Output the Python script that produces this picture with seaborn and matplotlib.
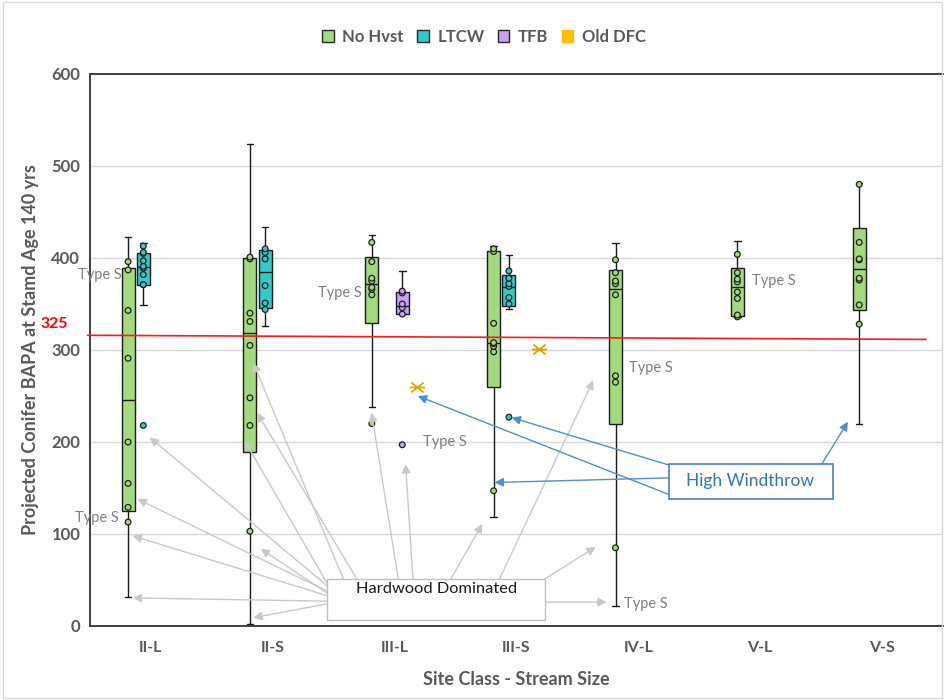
import numpy as np
import pandas as pd
import matplotlib
matplotlib.use("Agg")
import matplotlib as mpl
import matplotlib.pyplot as plt
from matplotlib.patches import Patch, Rectangle
from matplotlib.path import Path
import seaborn as sns

# ---------------- data ----------------
sites = ["II-L", "II-S", "III-L", "III-S", "IV-L", "V-L", "V-S"]
series = ["No Hvst", "LTCW", "TFB", "Old DFC"]
series_colors = ["#a3da7e", "#33c9c9", "#c9a0f6", "#ffc000"]

no_hvst = {
    "II-L": [32, 113, 129, 155, 200, 291, 343, 387, 396, 423],
    "II-S": [2, 103, 218, 248, 305, 331, 340, 399, 401, 524],
    "III-L": [220, 238, 360, 366, 368, 375, 378, 396, 417, 425],
    "III-S": [119, 147, 298, 304, 307, 308, 329, 407, 410, 413],
    "IV-L": [22, 85, 265, 272, 360, 372, 375, 384, 398, 416],
    "V-L": [336, 336, 338, 356, 363, 374, 377, 384, 404, 418],
    "V-S": [220, 328, 349, 376, 378, 398, 399, 417, 480, 482],
}
ltcw = {
    "II-L": [218, 349, 371, 371, 382, 389, 391, 397, 405, 406, 413, 416],
    "II-S": [326, 344, 351, 370, 399, 406, 410, 434],
    "III-S": [227, 345, 350, 357, 369, 372, 378, 386, 403],
}
tfb = {
    "III-L": [197, 339, 339, 346, 350, 362, 364, 386],
}
old_dfc = {
    "III-L": [260],
    "III-S": [301],
}

threshold_label = "325"
red_line_y = [316, 311.5]

type_s_notes = [(-0.42, 382), (-0.44, 117), (1.55, 362), (2.41, 200),
                (4.10, 280), (5.11, 375), (4.06, 24)]

# ---------------- styling ----------------
sns.set_style("white")
plt.rcParams["font.family"] = ["Lato", "DejaVu Sans"]
GRAY_TXT = "#595959"

rows = []
for name, d in zip(series, [no_hvst, ltcw, tfb, old_dfc]):
    for s, vals in d.items():
        for v in vals:
            rows.append((s, name, v))
df = pd.DataFrame(rows, columns=["site", "series", "value"])
palette = dict(zip(series, series_colors))


def excel_stats(x, whis=1.5):
    """Box statistics with exclusive quartiles (as in Excel's box & whisker chart)."""
    x = np.asarray(x, float)
    q1, med, q3 = np.percentile(x, [25, 50, 75], method="weibull")
    iqr = q3 - q1
    lo_f, hi_f = q1 - whis * iqr, q3 + whis * iqr
    inside = x[(x >= lo_f) & (x <= hi_f)]
    fliers = x[(x < lo_f) | (x > hi_f)]
    return q1, med, q3, iqr, inside.min(), inside.max(), fliers


_orig_stats = mpl.cbook.boxplot_stats


def exclusive_boxplot_stats(X, whis=1.5, bootstrap=None, labels=None, autorange=False):
    out = _orig_stats(X, whis=whis, bootstrap=bootstrap, labels=labels, autorange=autorange)
    for st, x in zip(out, X):
        q1, med, q3, iqr, lo, hi, fl = excel_stats(x, whis)
        st.update(q1=q1, med=med, q3=q3, iqr=iqr, whislo=lo, whishi=hi, fliers=fl)
    return out


mpl.cbook.boxplot_stats = exclusive_boxplot_stats

fig = plt.figure(figsize=(9.45, 7.0), dpi=100)
ax = fig.add_axes([90 / 945, 1 - 626 / 700, 853 / 945, 552 / 700])

box_df = df[df["series"] != "Old DFC"]
BOX_WIDTH = 0.5
sns.boxplot(data=box_df, x="site", y="value", hue="series", order=sites,
            hue_order=series, palette=palette, saturation=1, dodge=True,
            width=BOX_WIDTH, gap=0.14, whis=1.5, linecolor="#1a1a1a",
            linewidth=1.0, showfliers=False, legend=False, ax=ax, zorder=2)

# points: all values except the whisker-end values
pts = []
for (s, name), g in box_df.groupby(["site", "series"]):
    vals = sorted(g["value"].tolist())
    q1, med, q3, iqr, lo, hi, fl = excel_stats(vals)
    vals.remove(lo)
    vals.remove(hi)
    xi = sites.index(s) + (series.index(name) - (len(series) - 1) / 2) * BOX_WIDTH / len(series)
    for v in vals:
        pts.append((xi, v, name))
pts = pd.DataFrame(pts, columns=["xpos", "value", "series"])
sns.scatterplot(data=pts, x="xpos", y="value", hue="series", palette=palette,
                hue_order=series, s=17, edgecolor="#1f1f1f", linewidth=0.9,
                legend=False, ax=ax, zorder=3)

# Old DFC single values as asterisks
ast = Path([(-1, 0), (1, 0), (-0.8, -0.65), (0.8, 0.65), (-0.8, 0.65), (0.8, -0.65)],
           [Path.MOVETO, Path.LINETO, Path.MOVETO, Path.LINETO, Path.MOVETO, Path.LINETO])
od = df[df["series"] == "Old DFC"].copy()
od["xpos"] = [sites.index(s) + (series.index("Old DFC") - 1.5) * BOX_WIDTH / 4 for s in od["site"]]
sns.scatterplot(data=od, x="xpos", y="value", marker=ast, s=120, color="#e0a400",
                edgecolor="#e0a400", linewidth=1.3, legend=False, ax=ax, zorder=3)

# ---------------- axes ----------------
ax.set_xlim(-0.5, 6.5)
ax.set_ylim(0, 600)
ax.set_xticks(range(len(sites)))
ax.set_xticklabels(sites, fontsize=11.5, fontweight="bold", color=GRAY_TXT)
ax.set_yticks(range(0, 601, 100))
ax.set_yticklabels([str(v) for v in range(0, 601, 100)], fontsize=12,
                   fontweight="bold", color=GRAY_TXT)
ax.tick_params(axis="x", length=0, pad=11)
ax.tick_params(axis="y", length=0, pad=7)
ax.yaxis.grid(True, color="#d9d9d9", lw=1)
ax.xaxis.grid(False)
ax.set_axisbelow(True)
for side in ["left", "bottom", "top"]:
    ax.spines[side].set_color("#404040")
    ax.spines[side].set_linewidth(1.4)
ax.spines["right"].set_visible(False)
ax.set_xlabel("Site Class - Stream Size", fontsize=13, fontweight="bold",
              color=GRAY_TXT, labelpad=11)
ax.set_ylabel("Projected Conifer BAPA at Stamd Age 140 yrs", fontsize=13,
              fontweight="bold", color=GRAY_TXT, labelpad=9)

# threshold line and label
ax.plot([-0.52, 6.36], red_line_y, color="#ff1a1a", lw=1.2, clip_on=False, zorder=4)
ax.text(-0.79, 328, threshold_label, color="#ff0000", fontsize=11.3,
        fontweight="bold", ha="center", va="center", clip_on=False)

# Type S notes
for x, y in type_s_notes:
    ax.text(x, y, "Type S", color="#7f7f7f", fontsize=10.5, ha="center",
            va="center", zorder=7, clip_on=False)

# Hardwood Dominated callouts
gray_arrows = [
    ((-0.01, 205), (1.444, 44)), ((-0.11, 138), (1.444, 38)),
    ((-0.15, 98), (1.444, 33)), ((-0.15, 30.5), (1.444, 27)),
    ((0.84, 286), (1.58, 51)), ((0.87, 232), (1.69, 51)),
    ((0.77, 201), (1.444, 47)), ((0.90, 84), (1.444, 36)),
    ((0.84, 9), (1.444, 24)), ((1.81, 232), (2.03, 51)),
    ((2.09, 176), (2.15, 51)), ((2.72, 111), (2.46, 51)),
    ((3.63, 267), (2.86, 51)), ((3.65, 86), (3.23, 51)),
    ((3.74, 26), (3.23, 26)),
]
for tgt, org in gray_arrows:
    ax.annotate("", xy=tgt, xytext=org, zorder=5, annotation_clip=False,
                arrowprops=dict(arrowstyle="-|>", color="#c9c9c9", lw=1,
                                shrinkA=0, shrinkB=0, mutation_scale=13))
ax.add_patch(Rectangle((1.444, 6.5), 3.233 - 1.444, 51.2 - 6.5, facecolor="white",
                       edgecolor="#bfbfbf", lw=1, zorder=6, clip_on=False))
ax.text(2.34, 40, "Hardwood Dominated", fontsize=11.8, color="#1a1a1a",
        ha="center", va="center", zorder=7)

# High Windthrow callouts
blue_arrows = [
    ((2.19, 250), (4.25, 143)), ((2.96, 226.5), (4.25, 175)),
    ((2.82, 156), (4.25, 161)), ((5.72, 222), (5.51, 177)),
]
for tgt, org in blue_arrows:
    ax.annotate("", xy=tgt, xytext=org, zorder=5,
                arrowprops=dict(arrowstyle="-|>", color="#4f8fd0", lw=1,
                                shrinkA=0, shrinkB=0, mutation_scale=13))
ax.add_patch(Rectangle((4.25, 138.3), 5.595 - 4.25, 176.4 - 138.3, facecolor="white",
                       edgecolor="#4a7fc4", lw=1.2, zorder=6))
ax.text(4.92, 157.5, "High Windthrow", fontsize=12.5, color="#2e75b6",
        ha="center", va="center", zorder=7)

# legend
handles = [Patch(facecolor=c, edgecolor=("#262626" if n != "Old DFC" else c), lw=1)
           for n, c in zip(series, series_colors)]
fig.legend(handles, series, loc="center", bbox_to_anchor=(484 / 945, 1 - 37 / 700),
           ncol=4, frameon=False, handlelength=0.7, handleheight=0.7,
           handletextpad=0.5, columnspacing=0.8,
           prop=dict(size=12, weight="bold"), labelcolor=GRAY_TXT)

# outer chart border
fig.add_artist(Rectangle((0.003, 0.003), 0.994, 0.994, transform=fig.transFigure,
                         fill=False, edgecolor="#d9d9d9", lw=1))

fig.savefig("out.png", dpi=100, facecolor="white")
